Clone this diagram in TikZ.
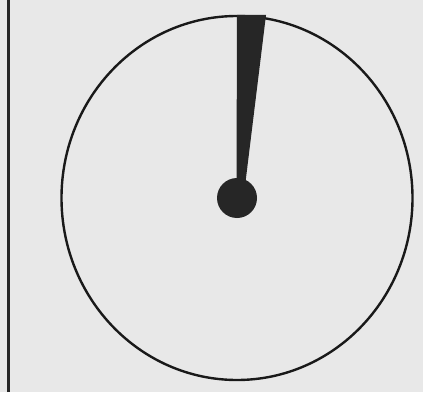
\documentclass[tikz,border=0pt]{standalone}
\begin{document}
\begin{tikzpicture}[x=1pt,y=1pt,
  ink/.style={fill=black!85},
  rim/.style={draw=black!90,line width=2.4pt}]
\fill[black!9] (0,0) rectangle (423,392);
\useasboundingbox (0,0) rectangle (423,392);
% left rule
\draw[black!85,line width=3pt] (8.5,0) -- (8.5,392);
% dial
\coordinate (c) at (237,194);
\draw[rim] (c) ellipse [x radius=175.5, y radius=182];
% pointer
\coordinate (tl) at (237,377);
\coordinate (tr) at (266,377);
\coordinate (br) at (245.5,210);
\coordinate (bl) at (236.5,210);
\fill[ink] (tl) -- (tr) -- (br) -- (bl) -- cycle;
\fill[ink] (c) circle (20);
\end{tikzpicture}
\end{document}
